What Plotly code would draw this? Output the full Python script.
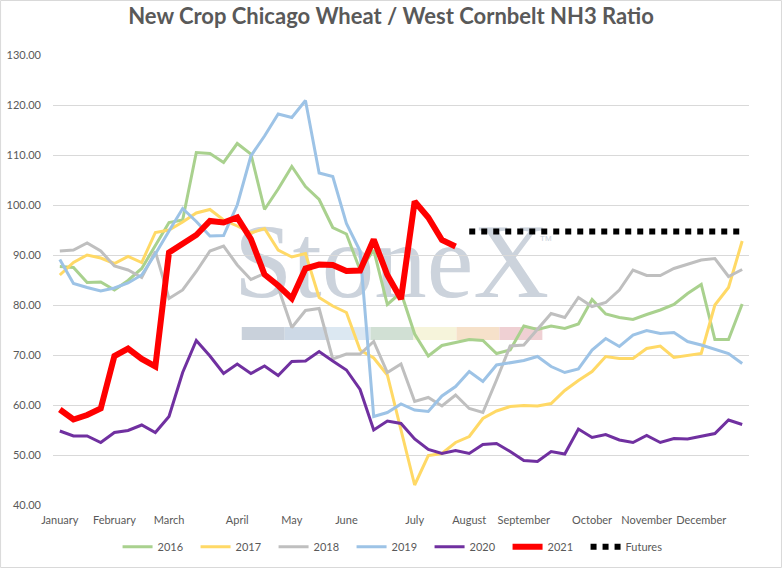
import plotly.graph_objects as go

# weekly ratio values, new crop Chicago wheat / West Cornbelt NH3
weeks = list(range(51))
month_ticks = [0, 4, 8, 13, 17, 21, 26, 30, 34, 39, 43, 47]
month_labels = ["January", "February", "March", "April", "May", "June",
                "July", "August", "September", "October", "November", "December"]

ratio_2016 = [87.7, 87.5, 84.5, 84.6, 83.0, 84.9, 87.3, 91.8, 96.5, 97.0,
              110.5, 110.3, 108.5, 112.3, 110.2, 99.1, 103.2, 107.7, 103.7, 101.1,
              95.5, 94.2, 87.0, 91.0, 80.1, 82.5, 74.2, 69.8, 71.9, 72.5,
              73.1, 72.9, 70.3, 71.0, 75.8, 75.1, 75.8, 75.3, 76.2, 81.1,
              78.2, 77.5, 77.1, 78.1, 79.0, 80.1, 82.3, 84.1, 73.1, 73.1, 80.2]
ratio_2017 = [86.0, 88.5, 90.0, 89.4, 88.3, 89.7, 88.5, 94.5, 95.0, 96.6,
              98.4, 99.1, 97.0, 95.8, 94.4, 95.3, 91.0, 89.6, 90.3, 81.5,
              79.8, 78.5, 71.0, 69.4, 66.0, 55.0, 44.0, 49.9, 50.3, 52.5,
              53.7, 57.3, 58.8, 59.7, 59.9, 59.8, 60.3, 62.9, 64.9, 66.7,
              69.7, 69.3, 69.3, 71.3, 71.8, 69.5, 69.9, 70.3, 80.0, 83.5, 92.8]
ratio_2018 = [90.8, 91.0, 92.4, 90.8, 87.8, 87.0, 85.5, 90.7, 81.3, 83.0,
              86.7, 90.8, 91.8, 88.0, 85.1, 86.3, 83.5, 75.5, 78.9, 79.3,
              69.2, 70.2, 70.2, 72.7, 66.5, 68.2, 60.7, 61.5, 59.8, 62.0,
              59.3, 58.5, 65.0, 71.8, 72.0, 75.2, 78.3, 77.5, 81.5, 79.7,
              80.5, 83.0, 87.0, 85.9, 85.9, 87.3, 88.2, 89.0, 89.3, 85.7, 87.1]
ratio_2019 = [89.1, 84.3, 83.5, 82.8, 83.4, 84.4, 86.0, 90.2, 94.8, 99.3,
              96.7, 93.8, 93.9, 100.0, 109.8, 113.8, 118.2, 117.5, 120.9, 106.4,
              105.7, 96.3, 90.8, 57.7, 58.5, 60.2, 59.0, 58.7, 61.8, 63.7,
              66.7, 64.7, 68.0, 68.5, 68.9, 69.7, 67.7, 66.5, 67.2, 71.0,
              73.3, 71.7, 74.0, 74.9, 74.3, 74.5, 72.7, 72.0, 71.1, 70.3, 68.3]
ratio_2020 = [54.8, 53.8, 53.8, 52.5, 54.5, 54.9, 56.0, 54.5, 57.7, 66.5,
              72.9, 69.8, 66.3, 68.2, 66.3, 67.8, 65.9, 68.7, 68.8, 70.7,
              68.8, 67.0, 63.1, 55.0, 56.8, 56.3, 53.2, 51.1, 50.3, 50.9,
              50.3, 52.1, 52.3, 50.7, 48.9, 48.7, 50.7, 50.2, 55.2, 53.5,
              54.1, 53.0, 52.5, 53.9, 52.5, 53.3, 53.2, 53.8, 54.3, 57.0, 56.1]
ratio_2021 = [59.1, 57.1, 58.0, 59.3, 69.8, 71.3, 69.2, 67.7, 90.5, 92.2,
              94.0, 96.8, 96.5, 97.5, 93.2, 86.1, 83.9, 81.3, 87.3, 88.1,
              88.0, 86.8, 86.9, 93.1, 86.0, 81.2, 100.7, 97.5, 93.0, 91.7]
futures_weeks = [30, 31, 32, 33, 34, 35, 36, 37, 38, 39, 40,
                 41, 42, 43, 44, 45, 46, 47, 48, 49, 50]
futures = [94.7] * len(futures_weeks)

GREY_TEXT = "#595959"
FONT = "Lato"
# watermark bar colours (StoneX logo strip)
LOGO_STRIP = ["#c9d1db", "#cdd9e6", "#dce8f2", "#d1e0d4", "#f6f4db", "#f6e1ca", "#efd0d3"]


def add_watermark(fig):
    # logo text sits under the lines
    fig.add_shape(
        type="rect", xref="paper", yref="paper",
        x0=0.271, x1=0.702, y0=0.481, y1=0.648,
        line_width=0, fillcolor="rgba(0,0,0,0)", layer="below",
        label=dict(text="StoneX", textposition="middle center",
                   font=dict(family="Liberation Serif", size=105, color="#ccd3dc")),
    )
    seg = 0.0617
    for k, colour in enumerate(LOGO_STRIP):
        fig.add_shape(
            type="rect", xref="paper", yref="paper",
            x0=0.2712 + k * seg, x1=0.2712 + (k + 1) * seg, y0=0.3667, y1=0.3956,
            line_width=0, fillcolor=colour, layer="below",
        )
    fig.add_annotation(
        text="TM", xref="paper", yref="paper", x=0.72, y=0.593,
        showarrow=False, font=dict(family="Liberation Sans", size=8, color="#c9d0da"),
    )


def plot_ratio():
    fig = go.Figure()
    add_watermark(fig)

    series = [
        ("2016", ratio_2016, "#a9d18e", 3),
        ("2017", ratio_2017, "#ffd966", 3),
        ("2018", ratio_2018, "#bfbfbf", 3),
        ("2019", ratio_2019, "#9dc3e6", 3),
        ("2020", ratio_2020, "#7030a0", 3),
    ]
    for name, values, colour, width in series:
        fig.add_trace(go.Scatter(x=weeks[:len(values)], y=values, name=name, mode="lines",
                                 line=dict(color=colour, width=width)))

    fig.add_trace(go.Scatter(x=weeks[:len(ratio_2021)], y=ratio_2021, name="2021", mode="lines",
                             line=dict(color="#ff0000", width=6)))
    fig.add_trace(go.Scatter(x=futures_weeks, y=futures, name="Futures", mode="lines",
                             line=dict(color="black", width=6, dash="dot")))

    fig.update_layout(
        width=782, height=568,
        margin=dict(l=53, r=33, t=55, b=63, autoexpand=False),
        paper_bgcolor="white", plot_bgcolor="white",
        font=dict(family=FONT, size=11, color=GREY_TEXT),
        title=dict(text="<b>New Crop Chicago Wheat / West Cornbelt NH3 Ratio</b>",
                   x=0.5, xref="container", y=0.971, yanchor="middle",
                   font=dict(family=FONT, size=22, color=GREY_TEXT)),
        showlegend=True,
        legend=dict(orientation="h", x=0.485, xanchor="center", y=-0.093, yanchor="middle",
                    entrywidth=33, entrywidthmode="pixels",
                    font=dict(size=11, color=GREY_TEXT), bgcolor="rgba(0,0,0,0)"),
    )
    fig.update_xaxes(range=[-0.5, 50.5], tickvals=month_ticks, ticktext=month_labels,
                     showgrid=False, zeroline=False, showline=False, ticks="",
                     ticklabelstandoff=7, automargin=False)
    fig.update_yaxes(range=[40, 130], dtick=10, tickformat=".2f", gridcolor="#d9d9d9",
                     gridwidth=1, zeroline=False, showline=False, ticks="",
                     ticklabelstandoff=11, automargin=False)

    # outer chart border
    fig.add_shape(type="rect", xref="paper", yref="paper",
                  x0=-52.5 / 697, x1=1 + 32.5 / 697, y0=-62.5 / 450, y1=1 + 54.5 / 450,
                  line=dict(color="#d9d9d9", width=1))

    # drop the browser's default page margin so the chart sits at the window corner
    fig.write_html("out.html", config={"displayModeBar": False},
                   post_script="document.body.style.margin = '0';")


if __name__ == "__main__":
    plot_ratio()
